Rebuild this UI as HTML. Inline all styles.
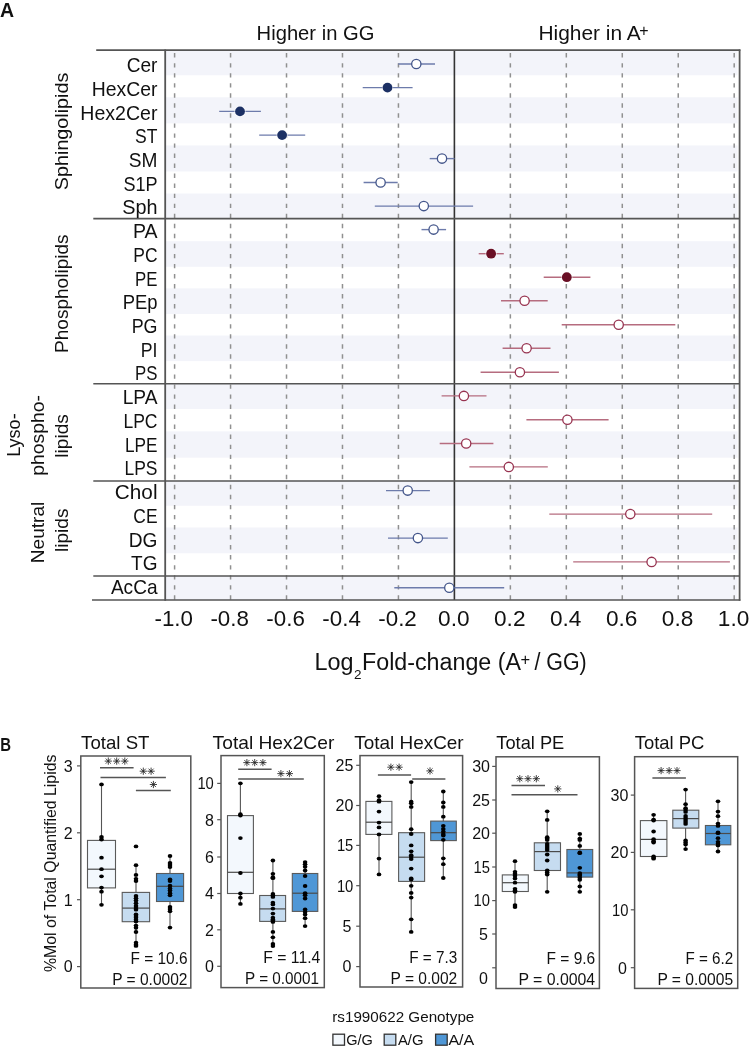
<!DOCTYPE html>
<html><head><meta charset="utf-8"><title>Figure</title>
<style>
html,body{margin:0;padding:0;background:#fff;}
body{width:752px;height:1049px;overflow:hidden;}
svg{display:block;will-change:transform;}
text{font-family:"Liberation Sans", sans-serif;fill:#111;}
</style></head><body>
<svg width="752" height="1049" viewBox="0 0 752 1049">
<rect width="752" height="1049" fill="#fff"/>
<g id="panelA">
<rect x="165.2" y="50.2" width="572.3" height="25.06" fill="#f3f4fa"/>
<rect x="165.2" y="97.31" width="572.3" height="26.06" fill="#f3f4fa"/>
<rect x="165.2" y="145.43" width="572.3" height="26.06" fill="#f3f4fa"/>
<rect x="165.2" y="193.54" width="572.3" height="25.06" fill="#f3f4fa"/>
<rect x="165.2" y="241.19" width="572.3" height="25.59" fill="#f3f4fa"/>
<rect x="165.2" y="288.36" width="572.3" height="25.59" fill="#f3f4fa"/>
<rect x="165.2" y="335.53" width="572.3" height="25.59" fill="#f3f4fa"/>
<rect x="165.2" y="383.7" width="572.3" height="25.32" fill="#f3f4fa"/>
<rect x="165.2" y="431.35" width="572.3" height="26.32" fill="#f3f4fa"/>
<rect x="165.2" y="481" width="572.3" height="24.75" fill="#f3f4fa"/>
<rect x="165.2" y="527.5" width="572.3" height="25.75" fill="#f3f4fa"/>
<rect x="165.2" y="576" width="572.3" height="24.2" fill="#f3f4fa"/>
<line x1="174.6" y1="50.2" x2="174.6" y2="600" stroke="#909090" stroke-width="1.5" stroke-dasharray="4.4 5.64" stroke-dashoffset="-2.9"/>
<line x1="230.56" y1="50.2" x2="230.56" y2="600" stroke="#909090" stroke-width="1.5" stroke-dasharray="4.4 5.64" stroke-dashoffset="-2.9"/>
<line x1="286.52" y1="50.2" x2="286.52" y2="600" stroke="#909090" stroke-width="1.5" stroke-dasharray="4.4 5.64" stroke-dashoffset="-2.9"/>
<line x1="342.48" y1="50.2" x2="342.48" y2="600" stroke="#909090" stroke-width="1.5" stroke-dasharray="4.4 5.64" stroke-dashoffset="-2.9"/>
<line x1="398.44" y1="50.2" x2="398.44" y2="600" stroke="#909090" stroke-width="1.5" stroke-dasharray="4.4 5.64" stroke-dashoffset="-2.9"/>
<line x1="510.36" y1="50.2" x2="510.36" y2="600" stroke="#909090" stroke-width="1.5" stroke-dasharray="4.4 5.64" stroke-dashoffset="-2.9"/>
<line x1="566.32" y1="50.2" x2="566.32" y2="600" stroke="#909090" stroke-width="1.5" stroke-dasharray="4.4 5.64" stroke-dashoffset="-2.9"/>
<line x1="622.28" y1="50.2" x2="622.28" y2="600" stroke="#909090" stroke-width="1.5" stroke-dasharray="4.4 5.64" stroke-dashoffset="-2.9"/>
<line x1="678.24" y1="50.2" x2="678.24" y2="600" stroke="#909090" stroke-width="1.5" stroke-dasharray="4.4 5.64" stroke-dashoffset="-2.9"/>
<line x1="734.2" y1="50.2" x2="734.2" y2="600" stroke="#909090" stroke-width="1.5" stroke-dasharray="4.4 5.64" stroke-dashoffset="-2.9"/>
<line x1="454.4" y1="50.2" x2="454.4" y2="600" stroke="#333" stroke-width="1.6"/>
<line x1="96.2" y1="50.2" x2="740.4" y2="50.2" stroke="#555" stroke-width="1.7"/>
<line x1="92.0" y1="600" x2="740.4" y2="600" stroke="#555" stroke-width="1.7"/>
<line x1="93.3" y1="218.6" x2="739.6" y2="218.6" stroke="#555" stroke-width="1.6"/>
<line x1="93.3" y1="383.7" x2="739.6" y2="383.7" stroke="#555" stroke-width="1.6"/>
<line x1="93.3" y1="481" x2="739.6" y2="481" stroke="#555" stroke-width="1.6"/>
<line x1="93.3" y1="576" x2="739.6" y2="576" stroke="#555" stroke-width="1.6"/>
<line x1="165.2" y1="49.4" x2="165.2" y2="600.8" stroke="#555" stroke-width="1.8"/>
<line x1="739.6" y1="49.4" x2="739.6" y2="600.8" stroke="#555" stroke-width="1.8"/>
<line x1="398.3" y1="64" x2="435" y2="64" stroke="#6d7bab" stroke-width="1.4"/>
<circle cx="416.3" cy="64" r="4.65" fill="#fff" stroke="#43558a" stroke-width="1.3"/>
<line x1="362.7" y1="87.6" x2="412.6" y2="87.6" stroke="#6d7bab" stroke-width="1.4"/>
<circle cx="387.5" cy="87.6" r="5.6" fill="#fff" opacity="0.7"/>
<circle cx="387.5" cy="87.6" r="4.9" fill="#1c3064"/>
<line x1="219.2" y1="111.4" x2="260.9" y2="111.4" stroke="#6d7bab" stroke-width="1.4"/>
<circle cx="240" cy="111.4" r="5.6" fill="#fff" opacity="0.7"/>
<circle cx="240" cy="111.4" r="4.9" fill="#1c3064"/>
<line x1="259.2" y1="135.1" x2="305.2" y2="135.1" stroke="#6d7bab" stroke-width="1.4"/>
<circle cx="282.1" cy="135.1" r="5.6" fill="#fff" opacity="0.7"/>
<circle cx="282.1" cy="135.1" r="4.9" fill="#1c3064"/>
<line x1="429.7" y1="158.6" x2="454.5" y2="158.6" stroke="#6d7bab" stroke-width="1.4"/>
<circle cx="442" cy="158.6" r="4.65" fill="#fff" stroke="#43558a" stroke-width="1.3"/>
<line x1="363.6" y1="182.5" x2="397.7" y2="182.5" stroke="#6d7bab" stroke-width="1.4"/>
<circle cx="380.6" cy="182.5" r="4.65" fill="#fff" stroke="#43558a" stroke-width="1.3"/>
<line x1="374.8" y1="206.1" x2="473.1" y2="206.1" stroke="#6d7bab" stroke-width="1.4"/>
<circle cx="423.8" cy="206.1" r="4.65" fill="#fff" stroke="#43558a" stroke-width="1.3"/>
<line x1="421.5" y1="229.6" x2="446.1" y2="229.6" stroke="#6d7bab" stroke-width="1.4"/>
<circle cx="433.6" cy="229.6" r="4.65" fill="#fff" stroke="#43558a" stroke-width="1.3"/>
<line x1="478.7" y1="253.7" x2="503.8" y2="253.7" stroke="#b66c7f" stroke-width="1.4"/>
<circle cx="491.1" cy="253.7" r="5.6" fill="#fff" opacity="0.7"/>
<circle cx="491.1" cy="253.7" r="4.9" fill="#6a0f25"/>
<line x1="543.7" y1="277.2" x2="590.4" y2="277.2" stroke="#b66c7f" stroke-width="1.4"/>
<circle cx="566.8" cy="277.2" r="5.6" fill="#fff" opacity="0.7"/>
<circle cx="566.8" cy="277.2" r="4.9" fill="#6a0f25"/>
<line x1="501" y1="300.8" x2="547.7" y2="300.8" stroke="#b66c7f" stroke-width="1.4"/>
<circle cx="524.6" cy="300.8" r="4.65" fill="#fff" stroke="#973350" stroke-width="1.3"/>
<line x1="561.7" y1="324.7" x2="675.3" y2="324.7" stroke="#b66c7f" stroke-width="1.4"/>
<circle cx="618.7" cy="324.7" r="4.65" fill="#fff" stroke="#973350" stroke-width="1.3"/>
<line x1="502.6" y1="348.2" x2="550.5" y2="348.2" stroke="#b66c7f" stroke-width="1.4"/>
<circle cx="526.6" cy="348.2" r="4.65" fill="#fff" stroke="#973350" stroke-width="1.3"/>
<line x1="480.6" y1="372.3" x2="558.9" y2="372.3" stroke="#b66c7f" stroke-width="1.4"/>
<circle cx="519.9" cy="372.3" r="4.65" fill="#fff" stroke="#973350" stroke-width="1.3"/>
<line x1="441.6" y1="395.9" x2="486.5" y2="395.9" stroke="#b66c7f" stroke-width="1.4"/>
<circle cx="463.9" cy="395.9" r="4.65" fill="#fff" stroke="#973350" stroke-width="1.3"/>
<line x1="526.4" y1="419.8" x2="608.6" y2="419.8" stroke="#b66c7f" stroke-width="1.4"/>
<circle cx="567.4" cy="419.8" r="4.65" fill="#fff" stroke="#973350" stroke-width="1.3"/>
<line x1="439.7" y1="443.5" x2="493.4" y2="443.5" stroke="#b66c7f" stroke-width="1.4"/>
<circle cx="466.2" cy="443.5" r="4.65" fill="#fff" stroke="#973350" stroke-width="1.3"/>
<line x1="469.4" y1="466.9" x2="547.8" y2="466.9" stroke="#b66c7f" stroke-width="1.4"/>
<circle cx="508.8" cy="466.9" r="4.65" fill="#fff" stroke="#973350" stroke-width="1.3"/>
<line x1="386" y1="490.6" x2="429.9" y2="490.6" stroke="#6d7bab" stroke-width="1.4"/>
<circle cx="407.7" cy="490.6" r="4.65" fill="#fff" stroke="#43558a" stroke-width="1.3"/>
<line x1="549.3" y1="514.1" x2="712.2" y2="514.1" stroke="#b66c7f" stroke-width="1.4"/>
<circle cx="630.3" cy="514.1" r="4.65" fill="#fff" stroke="#973350" stroke-width="1.3"/>
<line x1="388" y1="538.1" x2="447.8" y2="538.1" stroke="#6d7bab" stroke-width="1.4"/>
<circle cx="417.9" cy="538.1" r="4.65" fill="#fff" stroke="#43558a" stroke-width="1.3"/>
<line x1="573.2" y1="561.9" x2="729.9" y2="561.9" stroke="#b66c7f" stroke-width="1.4"/>
<circle cx="651.6" cy="561.9" r="4.65" fill="#fff" stroke="#973350" stroke-width="1.3"/>
<line x1="394.3" y1="587.7" x2="504.2" y2="587.7" stroke="#6d7bab" stroke-width="1.4"/>
<circle cx="449.3" cy="587.7" r="4.65" fill="#fff" stroke="#43558a" stroke-width="1.3"/>
<text x="157.5" y="72.1" text-anchor="end" font-size="20.6" textLength="30.8" lengthAdjust="spacingAndGlyphs">Cer</text>
<text x="157.5" y="95.82" text-anchor="end" font-size="20.6" textLength="65.8" lengthAdjust="spacingAndGlyphs">HexCer</text>
<text x="157.5" y="119.54" text-anchor="end" font-size="20.6" textLength="77.2" lengthAdjust="spacingAndGlyphs">Hex2Cer</text>
<text x="157.5" y="143.26" text-anchor="end" font-size="20.6" textLength="22.4" lengthAdjust="spacingAndGlyphs">ST</text>
<text x="157.5" y="166.98" text-anchor="end" font-size="20.6" textLength="28.7" lengthAdjust="spacingAndGlyphs">SM</text>
<text x="157.5" y="190.7" text-anchor="end" font-size="20.6" textLength="34.1" lengthAdjust="spacingAndGlyphs">S1P</text>
<text x="157.5" y="214.42" text-anchor="end" font-size="20.6" textLength="35.3" lengthAdjust="spacingAndGlyphs">Sph</text>
<text x="157.5" y="238.14" text-anchor="end" font-size="20.6" textLength="24.6" lengthAdjust="spacingAndGlyphs">PA</text>
<text x="157.5" y="261.86" text-anchor="end" font-size="20.6" textLength="24.2" lengthAdjust="spacingAndGlyphs">PC</text>
<text x="157.5" y="285.58" text-anchor="end" font-size="20.6" textLength="22.4" lengthAdjust="spacingAndGlyphs">PE</text>
<text x="157.5" y="309.3" text-anchor="end" font-size="20.6" textLength="34.8" lengthAdjust="spacingAndGlyphs">PEp</text>
<text x="157.5" y="333.02" text-anchor="end" font-size="20.6" textLength="25.8" lengthAdjust="spacingAndGlyphs">PG</text>
<text x="157.5" y="356.74" text-anchor="end" font-size="20.6" textLength="16.7" lengthAdjust="spacingAndGlyphs">PI</text>
<text x="157.5" y="380.46" text-anchor="end" font-size="20.6" textLength="22.4" lengthAdjust="spacingAndGlyphs">PS</text>
<text x="157.5" y="404.18" text-anchor="end" font-size="20.6" textLength="34.8" lengthAdjust="spacingAndGlyphs">LPA</text>
<text x="157.5" y="427.9" text-anchor="end" font-size="20.6" textLength="34.1" lengthAdjust="spacingAndGlyphs">LPC</text>
<text x="157.5" y="451.62" text-anchor="end" font-size="20.6" textLength="32.5" lengthAdjust="spacingAndGlyphs">LPE</text>
<text x="157.5" y="475.34" text-anchor="end" font-size="20.6" textLength="33" lengthAdjust="spacingAndGlyphs">LPS</text>
<text x="157.5" y="499.06" text-anchor="end" font-size="20.6" textLength="42.7" lengthAdjust="spacingAndGlyphs">Chol</text>
<text x="157.5" y="522.78" text-anchor="end" font-size="20.6" textLength="24.2" lengthAdjust="spacingAndGlyphs">CE</text>
<text x="157.5" y="546.5" text-anchor="end" font-size="20.6" textLength="28.7" lengthAdjust="spacingAndGlyphs">DG</text>
<text x="157.5" y="570.22" text-anchor="end" font-size="20.6" textLength="26.4" lengthAdjust="spacingAndGlyphs">TG</text>
<text x="157.5" y="593.94" text-anchor="end" font-size="20.6" textLength="46.6" lengthAdjust="spacingAndGlyphs">AcCa</text>
<text transform="translate(68.3 131.4) rotate(-90)" text-anchor="middle" font-size="19" textLength="117.5" lengthAdjust="spacingAndGlyphs">Sphingolipids</text>
<text transform="translate(68.3 293.7) rotate(-90)" text-anchor="middle" font-size="19" textLength="118.5" lengthAdjust="spacingAndGlyphs">Phospholipids</text>
<text transform="translate(20.2 435.1) rotate(-90)" text-anchor="middle" font-size="19" textLength="43.5" lengthAdjust="spacingAndGlyphs">Lyso-</text>
<text transform="translate(44.1 435.4) rotate(-90)" text-anchor="middle" font-size="19" textLength="80.5" lengthAdjust="spacingAndGlyphs">phospho-</text>
<text transform="translate(67.9 435.9) rotate(-90)" text-anchor="middle" font-size="19" textLength="43.5" lengthAdjust="spacingAndGlyphs">lipids</text>
<text transform="translate(44 532.5) rotate(-90)" text-anchor="middle" font-size="19" textLength="61.5" lengthAdjust="spacingAndGlyphs">Neutral</text>
<text transform="translate(67.9 530.3) rotate(-90)" text-anchor="middle" font-size="19" textLength="43.5" lengthAdjust="spacingAndGlyphs">lipids</text>
<text x="256.6" y="40" font-size="20" textLength="117.8" lengthAdjust="spacingAndGlyphs">Higher in GG</text>
<text x="538.4" y="40" font-size="20" textLength="102.3" lengthAdjust="spacingAndGlyphs">Higher in A</text>
<text x="639.3" y="36.3" font-size="16">+</text>
<text x="0" y="16.8" font-size="19.5" font-weight="bold">A</text>
<text x="173.7" y="626" text-anchor="middle" font-size="22" textLength="38.5" lengthAdjust="spacingAndGlyphs">-1.0</text>
<text x="229.66" y="626" text-anchor="middle" font-size="22" textLength="38.5" lengthAdjust="spacingAndGlyphs">-0.8</text>
<text x="285.62" y="626" text-anchor="middle" font-size="22" textLength="38.5" lengthAdjust="spacingAndGlyphs">-0.6</text>
<text x="341.58" y="626" text-anchor="middle" font-size="22" textLength="38.5" lengthAdjust="spacingAndGlyphs">-0.4</text>
<text x="397.54" y="626" text-anchor="middle" font-size="22" textLength="38.5" lengthAdjust="spacingAndGlyphs">-0.2</text>
<text x="453.8" y="626" text-anchor="middle" font-size="22" textLength="31.5" lengthAdjust="spacingAndGlyphs">0.0</text>
<text x="509.76" y="626" text-anchor="middle" font-size="22" textLength="31.5" lengthAdjust="spacingAndGlyphs">0.2</text>
<text x="565.72" y="626" text-anchor="middle" font-size="22" textLength="31.5" lengthAdjust="spacingAndGlyphs">0.4</text>
<text x="621.68" y="626" text-anchor="middle" font-size="22" textLength="31.5" lengthAdjust="spacingAndGlyphs">0.6</text>
<text x="677.64" y="626" text-anchor="middle" font-size="22" textLength="31.5" lengthAdjust="spacingAndGlyphs">0.8</text>
<text x="733.6" y="626" text-anchor="middle" font-size="22" textLength="31.5" lengthAdjust="spacingAndGlyphs">1.0</text>
<text x="314.6" y="670.2" font-size="23" textLength="39" lengthAdjust="spacingAndGlyphs">Log</text>
<text x="353.9" y="678.6" font-size="13.5">2</text>
<text x="362.0" y="670.2" font-size="23" textLength="159" lengthAdjust="spacingAndGlyphs">Fold-change (A</text>
<text x="520.4" y="665.3" font-size="16.5">+</text>
<text x="534.4" y="670.2" font-size="23" textLength="52.3" lengthAdjust="spacingAndGlyphs">/ GG)</text>
</g>
<g id="panelB">
<text x="0.2" y="750.6" font-size="18.5" font-weight="bold" textLength="10.8" lengthAdjust="spacingAndGlyphs">B</text>
<text transform="translate(55.6 863.3) rotate(-90)" text-anchor="middle" font-size="15.6" textLength="217.5" lengthAdjust="spacingAndGlyphs">%Mol of Total Quantified Lipids</text>
<text x="81.1" y="749.1" font-size="19" textLength="68.4" lengthAdjust="spacingAndGlyphs">Total ST</text>
<rect x="80.8" y="756" width="110" height="232" fill="#fff" stroke="#555" stroke-width="1.5"/>
<line x1="77" y1="966.6" x2="80.8" y2="966.6" stroke="#555" stroke-width="1.2"/>
<text x="72.6" y="972.4" text-anchor="end" font-size="16">0</text>
<line x1="77" y1="899.7" x2="80.8" y2="899.7" stroke="#555" stroke-width="1.2"/>
<text x="72.6" y="905.5" text-anchor="end" font-size="16">1</text>
<line x1="77" y1="832.8" x2="80.8" y2="832.8" stroke="#555" stroke-width="1.2"/>
<text x="72.6" y="838.6" text-anchor="end" font-size="16">2</text>
<line x1="77" y1="765.9" x2="80.8" y2="765.9" stroke="#555" stroke-width="1.2"/>
<text x="72.6" y="771.7" text-anchor="end" font-size="16">3</text>
<line x1="100" y1="767.7" x2="133.6" y2="767.7" stroke="#555" stroke-width="1.5"/>
<path d="M108.3 757.5L108.3 764.7M105.75 758.55L110.85 763.65M104.7 761.1L111.9 761.1M105.75 763.65L110.85 758.55" stroke="#222" stroke-width="0.85" fill="none"/>
<path d="M116.7 757.5L116.7 764.7M114.15 758.55L119.25 763.65M113.1 761.1L120.3 761.1M114.15 763.65L119.25 758.55" stroke="#222" stroke-width="0.85" fill="none"/>
<path d="M124.8 757.5L124.8 764.7M122.25 758.55L127.35 763.65M121.2 761.1L128.4 761.1M122.25 763.65L127.35 758.55" stroke="#222" stroke-width="0.85" fill="none"/>
<line x1="100.5" y1="777.4" x2="165.9" y2="777.4" stroke="#555" stroke-width="1.5"/>
<path d="M143.3 767.6L143.3 774.8M140.75 768.65L145.85 773.75M139.7 771.2L146.9 771.2M140.75 773.75L145.85 768.65" stroke="#222" stroke-width="0.85" fill="none"/>
<path d="M151.1 767.6L151.1 774.8M148.55 768.65L153.65 773.75M147.5 771.2L154.7 771.2M148.55 773.75L153.65 768.65" stroke="#222" stroke-width="0.85" fill="none"/>
<line x1="135.9" y1="790.6" x2="170.8" y2="790.6" stroke="#555" stroke-width="1.5"/>
<path d="M153.4 780.9L153.4 788.1M150.85 781.95L155.95 787.05M149.8 784.5L157 784.5M150.85 787.05L155.95 781.95" stroke="#222" stroke-width="0.85" fill="none"/>
<line x1="101.5" y1="784.4" x2="101.5" y2="904.8" stroke="#555" stroke-width="1.1"/>
<rect x="87.5" y="840.4" width="28" height="47.5" fill="#f3f8fd" stroke="#5a5a5a" stroke-width="1.1"/>
<line x1="87.5" y1="869.2" x2="115.5" y2="869.2" stroke="#4a4a4a" stroke-width="1.2"/>
<ellipse cx="101.5" cy="784.4" rx="2.3" ry="1.9" fill="#000"/>
<ellipse cx="101.5" cy="836.9" rx="2.3" ry="1.9" fill="#000"/>
<ellipse cx="101.5" cy="839.5" rx="2.3" ry="1.9" fill="#000"/>
<ellipse cx="101.5" cy="857.7" rx="2.3" ry="1.9" fill="#000"/>
<ellipse cx="101.5" cy="869.2" rx="2.3" ry="1.9" fill="#000"/>
<ellipse cx="101.5" cy="876.3" rx="2.3" ry="1.9" fill="#000"/>
<ellipse cx="101.5" cy="887.6" rx="2.3" ry="1.9" fill="#000"/>
<ellipse cx="101.5" cy="891.7" rx="2.3" ry="1.9" fill="#000"/>
<ellipse cx="101.5" cy="904.8" rx="2.3" ry="1.9" fill="#000"/>
<line x1="136" y1="865.2" x2="136" y2="945.3" stroke="#555" stroke-width="1.1"/>
<rect x="122.2" y="892.4" width="27.4" height="29.3" fill="#c6dcf0" stroke="#5a5a5a" stroke-width="1.1"/>
<line x1="122.2" y1="908.1" x2="149.6" y2="908.1" stroke="#4a4a4a" stroke-width="1.2"/>
<ellipse cx="136" cy="846.4" rx="2.3" ry="1.9" fill="#000"/>
<ellipse cx="136" cy="865.2" rx="2.3" ry="1.9" fill="#000"/>
<ellipse cx="136" cy="874.9" rx="2.3" ry="1.9" fill="#000"/>
<ellipse cx="136" cy="878.8" rx="2.3" ry="1.9" fill="#000"/>
<ellipse cx="136" cy="881" rx="2.3" ry="1.9" fill="#000"/>
<ellipse cx="136" cy="895.9" rx="2.3" ry="1.9" fill="#000"/>
<ellipse cx="136" cy="898.3" rx="2.3" ry="1.9" fill="#000"/>
<ellipse cx="136" cy="900.6" rx="2.3" ry="1.9" fill="#000"/>
<ellipse cx="136" cy="903.3" rx="2.3" ry="1.9" fill="#000"/>
<ellipse cx="136" cy="906" rx="2.3" ry="1.9" fill="#000"/>
<ellipse cx="136" cy="908.1" rx="2.3" ry="1.9" fill="#000"/>
<ellipse cx="136" cy="909.7" rx="2.3" ry="1.9" fill="#000"/>
<ellipse cx="136" cy="914.5" rx="2.3" ry="1.9" fill="#000"/>
<ellipse cx="136" cy="916.1" rx="2.3" ry="1.9" fill="#000"/>
<ellipse cx="136" cy="917.7" rx="2.3" ry="1.9" fill="#000"/>
<ellipse cx="136" cy="919.8" rx="2.3" ry="1.9" fill="#000"/>
<ellipse cx="136" cy="921.4" rx="2.3" ry="1.9" fill="#000"/>
<ellipse cx="136" cy="925.6" rx="2.3" ry="1.9" fill="#000"/>
<ellipse cx="136" cy="927.8" rx="2.3" ry="1.9" fill="#000"/>
<ellipse cx="136" cy="932" rx="2.3" ry="1.9" fill="#000"/>
<ellipse cx="136" cy="942.7" rx="2.3" ry="1.9" fill="#000"/>
<ellipse cx="136" cy="944.8" rx="2.3" ry="1.9" fill="#000"/>
<ellipse cx="136" cy="945.9" rx="2.3" ry="1.9" fill="#000"/>
<line x1="170" y1="856" x2="170" y2="927.6" stroke="#555" stroke-width="1.1"/>
<rect x="156.5" y="873.5" width="27.1" height="28" fill="#4f97d6" stroke="#5a5a5a" stroke-width="1.1"/>
<line x1="156.5" y1="886.3" x2="183.6" y2="886.3" stroke="#4a4a4a" stroke-width="1.2"/>
<ellipse cx="170" cy="856" rx="2.3" ry="1.9" fill="#000"/>
<ellipse cx="170" cy="862.9" rx="2.3" ry="1.9" fill="#000"/>
<ellipse cx="170" cy="865" rx="2.3" ry="1.9" fill="#000"/>
<ellipse cx="170" cy="867.1" rx="2.3" ry="1.9" fill="#000"/>
<ellipse cx="170" cy="879.4" rx="2.3" ry="1.9" fill="#000"/>
<ellipse cx="170" cy="881" rx="2.3" ry="1.9" fill="#000"/>
<ellipse cx="170" cy="885.7" rx="2.3" ry="1.9" fill="#000"/>
<ellipse cx="170" cy="888.4" rx="2.3" ry="1.9" fill="#000"/>
<ellipse cx="170" cy="890.5" rx="2.3" ry="1.9" fill="#000"/>
<ellipse cx="170" cy="893.2" rx="2.3" ry="1.9" fill="#000"/>
<ellipse cx="170" cy="895.3" rx="2.3" ry="1.9" fill="#000"/>
<ellipse cx="170" cy="907" rx="2.3" ry="1.9" fill="#000"/>
<ellipse cx="170" cy="909.1" rx="2.3" ry="1.9" fill="#000"/>
<ellipse cx="170" cy="911.3" rx="2.3" ry="1.9" fill="#000"/>
<ellipse cx="170" cy="927.6" rx="2.3" ry="1.9" fill="#000"/>
<text x="187.5" y="963.9" text-anchor="end" font-size="16" textLength="56.9" lengthAdjust="spacingAndGlyphs">F = 10.6</text>
<text x="187.5" y="984.6" text-anchor="end" font-size="16" textLength="75.3" lengthAdjust="spacingAndGlyphs">P = 0.0002</text>
<text x="212.6" y="749.1" font-size="19" textLength="121.7" lengthAdjust="spacingAndGlyphs">Total Hex2Cer</text>
<rect x="221" y="755.6" width="103.3" height="232" fill="#fff" stroke="#555" stroke-width="1.5"/>
<line x1="217.2" y1="966.3" x2="221" y2="966.3" stroke="#555" stroke-width="1.2"/>
<text x="213.8" y="972.1" text-anchor="end" font-size="16">0</text>
<line x1="217.2" y1="929.8" x2="221" y2="929.8" stroke="#555" stroke-width="1.2"/>
<text x="213.8" y="935.6" text-anchor="end" font-size="16">2</text>
<line x1="217.2" y1="893.5" x2="221" y2="893.5" stroke="#555" stroke-width="1.2"/>
<text x="213.8" y="899.3" text-anchor="end" font-size="16">4</text>
<line x1="217.2" y1="857" x2="221" y2="857" stroke="#555" stroke-width="1.2"/>
<text x="213.8" y="862.8" text-anchor="end" font-size="16">6</text>
<line x1="217.2" y1="819.7" x2="221" y2="819.7" stroke="#555" stroke-width="1.2"/>
<text x="213.8" y="825.5" text-anchor="end" font-size="16">8</text>
<line x1="217.2" y1="783.4" x2="221" y2="783.4" stroke="#555" stroke-width="1.2"/>
<text x="213.8" y="789.2" text-anchor="end" font-size="16" textLength="16.4" lengthAdjust="spacingAndGlyphs">10</text>
<line x1="238.2" y1="769.3" x2="271.6" y2="769.3" stroke="#555" stroke-width="1.5"/>
<path d="M246.9 759L246.9 766.2M244.35 760.05L249.45 765.15M243.3 762.6L250.5 762.6M244.35 765.15L249.45 760.05" stroke="#222" stroke-width="0.85" fill="none"/>
<path d="M254.7 759L254.7 766.2M252.15 760.05L257.25 765.15M251.1 762.6L258.3 762.6M252.15 765.15L257.25 760.05" stroke="#222" stroke-width="0.85" fill="none"/>
<path d="M262.9 759L262.9 766.2M260.35 760.05L265.45 765.15M259.3 762.6L266.5 762.6M260.35 765.15L265.45 760.05" stroke="#222" stroke-width="0.85" fill="none"/>
<line x1="238.2" y1="778.9" x2="303.8" y2="778.9" stroke="#555" stroke-width="1.5"/>
<path d="M280.9 770L280.9 777.2M278.35 771.05L283.45 776.15M277.3 773.6L284.5 773.6M278.35 776.15L283.45 771.05" stroke="#222" stroke-width="0.85" fill="none"/>
<path d="M289.4 770L289.4 777.2M286.85 771.05L291.95 776.15M285.8 773.6L293 773.6M286.85 776.15L291.95 771.05" stroke="#222" stroke-width="0.85" fill="none"/>
<line x1="240.4" y1="783.3" x2="240.4" y2="903.9" stroke="#555" stroke-width="1.1"/>
<rect x="227.5" y="815.6" width="25.9" height="77.9" fill="#f3f8fd" stroke="#5a5a5a" stroke-width="1.1"/>
<line x1="227.5" y1="872.3" x2="253.4" y2="872.3" stroke="#4a4a4a" stroke-width="1.2"/>
<ellipse cx="240.4" cy="783.3" rx="2.3" ry="1.9" fill="#000"/>
<ellipse cx="240.4" cy="814.2" rx="2.3" ry="1.9" fill="#000"/>
<ellipse cx="240.4" cy="815.6" rx="2.3" ry="1.9" fill="#000"/>
<ellipse cx="240.4" cy="838.1" rx="2.3" ry="1.9" fill="#000"/>
<ellipse cx="240.4" cy="873" rx="2.3" ry="1.9" fill="#000"/>
<ellipse cx="240.4" cy="893.5" rx="2.3" ry="1.9" fill="#000"/>
<ellipse cx="240.4" cy="897.7" rx="2.3" ry="1.9" fill="#000"/>
<ellipse cx="240.4" cy="903.9" rx="2.3" ry="1.9" fill="#000"/>
<line x1="272.9" y1="860.5" x2="272.9" y2="946.1" stroke="#555" stroke-width="1.1"/>
<rect x="259.7" y="895.5" width="25.9" height="25.9" fill="#c6dcf0" stroke="#5a5a5a" stroke-width="1.1"/>
<line x1="259.7" y1="908.9" x2="285.6" y2="908.9" stroke="#4a4a4a" stroke-width="1.2"/>
<ellipse cx="272.9" cy="860.5" rx="2.3" ry="1.9" fill="#000"/>
<ellipse cx="272.9" cy="873.8" rx="2.3" ry="1.9" fill="#000"/>
<ellipse cx="272.9" cy="877.2" rx="2.3" ry="1.9" fill="#000"/>
<ellipse cx="272.9" cy="878.2" rx="2.3" ry="1.9" fill="#000"/>
<ellipse cx="272.9" cy="893.9" rx="2.3" ry="1.9" fill="#000"/>
<ellipse cx="272.9" cy="895.5" rx="2.3" ry="1.9" fill="#000"/>
<ellipse cx="272.9" cy="896.9" rx="2.3" ry="1.9" fill="#000"/>
<ellipse cx="272.9" cy="902.7" rx="2.3" ry="1.9" fill="#000"/>
<ellipse cx="272.9" cy="904.4" rx="2.3" ry="1.9" fill="#000"/>
<ellipse cx="272.9" cy="908.6" rx="2.3" ry="1.9" fill="#000"/>
<ellipse cx="272.9" cy="913.6" rx="2.3" ry="1.9" fill="#000"/>
<ellipse cx="272.9" cy="917.7" rx="2.3" ry="1.9" fill="#000"/>
<ellipse cx="272.9" cy="919.4" rx="2.3" ry="1.9" fill="#000"/>
<ellipse cx="272.9" cy="920.6" rx="2.3" ry="1.9" fill="#000"/>
<ellipse cx="272.9" cy="921.9" rx="2.3" ry="1.9" fill="#000"/>
<ellipse cx="272.9" cy="931.9" rx="2.3" ry="1.9" fill="#000"/>
<ellipse cx="272.9" cy="937.3" rx="2.3" ry="1.9" fill="#000"/>
<ellipse cx="272.9" cy="944" rx="2.3" ry="1.9" fill="#000"/>
<ellipse cx="272.9" cy="946.1" rx="2.3" ry="1.9" fill="#000"/>
<line x1="305.1" y1="862.1" x2="305.1" y2="926.1" stroke="#555" stroke-width="1.1"/>
<rect x="292.3" y="873.5" width="25.5" height="37.9" fill="#4f97d6" stroke="#5a5a5a" stroke-width="1.1"/>
<line x1="292.3" y1="893.2" x2="317.8" y2="893.2" stroke="#4a4a4a" stroke-width="1.2"/>
<ellipse cx="305.1" cy="862.1" rx="2.3" ry="1.9" fill="#000"/>
<ellipse cx="305.1" cy="864.3" rx="2.3" ry="1.9" fill="#000"/>
<ellipse cx="305.1" cy="866.8" rx="2.3" ry="1.9" fill="#000"/>
<ellipse cx="305.1" cy="870.5" rx="2.3" ry="1.9" fill="#000"/>
<ellipse cx="305.1" cy="876" rx="2.3" ry="1.9" fill="#000"/>
<ellipse cx="305.1" cy="886" rx="2.3" ry="1.9" fill="#000"/>
<ellipse cx="305.1" cy="893.2" rx="2.3" ry="1.9" fill="#000"/>
<ellipse cx="305.1" cy="895.2" rx="2.3" ry="1.9" fill="#000"/>
<ellipse cx="305.1" cy="898.5" rx="2.3" ry="1.9" fill="#000"/>
<ellipse cx="305.1" cy="909.4" rx="2.3" ry="1.9" fill="#000"/>
<ellipse cx="305.1" cy="911.9" rx="2.3" ry="1.9" fill="#000"/>
<ellipse cx="305.1" cy="914.4" rx="2.3" ry="1.9" fill="#000"/>
<ellipse cx="305.1" cy="918.2" rx="2.3" ry="1.9" fill="#000"/>
<ellipse cx="305.1" cy="926.1" rx="2.3" ry="1.9" fill="#000"/>
<text x="320.3" y="963.2" text-anchor="end" font-size="16" textLength="57" lengthAdjust="spacingAndGlyphs">F = 11.4</text>
<text x="318.9" y="984.3" text-anchor="end" font-size="16" textLength="73.9" lengthAdjust="spacingAndGlyphs">P = 0.0001</text>
<text x="354.2" y="749.1" font-size="19" textLength="109.5" lengthAdjust="spacingAndGlyphs">Total HexCer</text>
<rect x="360" y="755.6" width="102.6" height="231.4" fill="#fff" stroke="#555" stroke-width="1.5"/>
<line x1="356.2" y1="966.6" x2="360" y2="966.6" stroke="#555" stroke-width="1.2"/>
<text x="351.5" y="972.4" text-anchor="end" font-size="16">0</text>
<line x1="356.2" y1="926.2" x2="360" y2="926.2" stroke="#555" stroke-width="1.2"/>
<text x="351.5" y="932" text-anchor="end" font-size="16">5</text>
<line x1="356.2" y1="885.7" x2="360" y2="885.7" stroke="#555" stroke-width="1.2"/>
<text x="353.3" y="891.5" text-anchor="end" font-size="16" textLength="16.4" lengthAdjust="spacingAndGlyphs">10</text>
<line x1="356.2" y1="845.4" x2="360" y2="845.4" stroke="#555" stroke-width="1.2"/>
<text x="353.3" y="851.2" text-anchor="end" font-size="16" textLength="16.4" lengthAdjust="spacingAndGlyphs">15</text>
<line x1="356.2" y1="805.5" x2="360" y2="805.5" stroke="#555" stroke-width="1.2"/>
<text x="353.3" y="811.3" text-anchor="end" font-size="16">20</text>
<line x1="356.2" y1="765.3" x2="360" y2="765.3" stroke="#555" stroke-width="1.2"/>
<text x="353.3" y="771.1" text-anchor="end" font-size="16">25</text>
<line x1="377.9" y1="775.1" x2="411.1" y2="775.1" stroke="#555" stroke-width="1.5"/>
<path d="M390.9 763.6L390.9 770.8M388.35 764.65L393.45 769.75M387.3 767.2L394.5 767.2M388.35 769.75L393.45 764.65" stroke="#222" stroke-width="0.85" fill="none"/>
<path d="M399.1 763.6L399.1 770.8M396.55 764.65L401.65 769.75M395.5 767.2L402.7 767.2M396.55 769.75L401.65 764.65" stroke="#222" stroke-width="0.85" fill="none"/>
<line x1="412.2" y1="778.9" x2="445.4" y2="778.9" stroke="#555" stroke-width="1.5"/>
<path d="M430 767.3L430 774.5M427.45 768.35L432.55 773.45M426.4 770.9L433.6 770.9M427.45 773.45L432.55 768.35" stroke="#222" stroke-width="0.85" fill="none"/>
<line x1="379" y1="796.2" x2="379" y2="874.4" stroke="#555" stroke-width="1.1"/>
<rect x="365.9" y="801.4" width="26" height="33" fill="#f3f8fd" stroke="#5a5a5a" stroke-width="1.1"/>
<line x1="365.9" y1="822.2" x2="391.9" y2="822.2" stroke="#4a4a4a" stroke-width="1.2"/>
<ellipse cx="379" cy="796.2" rx="2.3" ry="1.9" fill="#000"/>
<ellipse cx="379" cy="800.2" rx="2.3" ry="1.9" fill="#000"/>
<ellipse cx="379" cy="801.7" rx="2.3" ry="1.9" fill="#000"/>
<ellipse cx="379" cy="811.6" rx="2.3" ry="1.9" fill="#000"/>
<ellipse cx="379" cy="822.6" rx="2.3" ry="1.9" fill="#000"/>
<ellipse cx="379" cy="827.4" rx="2.3" ry="1.9" fill="#000"/>
<ellipse cx="379" cy="834.4" rx="2.3" ry="1.9" fill="#000"/>
<ellipse cx="379" cy="858.6" rx="2.3" ry="1.9" fill="#000"/>
<ellipse cx="379" cy="874.4" rx="2.3" ry="1.9" fill="#000"/>
<line x1="411.2" y1="782.1" x2="411.2" y2="931.9" stroke="#555" stroke-width="1.1"/>
<rect x="398.6" y="832.7" width="26" height="48.7" fill="#c6dcf0" stroke="#5a5a5a" stroke-width="1.1"/>
<line x1="398.6" y1="857.2" x2="424.6" y2="857.2" stroke="#4a4a4a" stroke-width="1.2"/>
<ellipse cx="411.2" cy="782.1" rx="2.3" ry="1.9" fill="#000"/>
<ellipse cx="411.2" cy="801.7" rx="2.3" ry="1.9" fill="#000"/>
<ellipse cx="411.2" cy="803.3" rx="2.3" ry="1.9" fill="#000"/>
<ellipse cx="411.2" cy="806.9" rx="2.3" ry="1.9" fill="#000"/>
<ellipse cx="411.2" cy="829.2" rx="2.3" ry="1.9" fill="#000"/>
<ellipse cx="411.2" cy="834" rx="2.3" ry="1.9" fill="#000"/>
<ellipse cx="411.2" cy="845.4" rx="2.3" ry="1.9" fill="#000"/>
<ellipse cx="411.2" cy="851.3" rx="2.3" ry="1.9" fill="#000"/>
<ellipse cx="411.2" cy="855.2" rx="2.3" ry="1.9" fill="#000"/>
<ellipse cx="411.2" cy="856.8" rx="2.3" ry="1.9" fill="#000"/>
<ellipse cx="411.2" cy="859.1" rx="2.3" ry="1.9" fill="#000"/>
<ellipse cx="411.2" cy="868.6" rx="2.3" ry="1.9" fill="#000"/>
<ellipse cx="411.2" cy="878.5" rx="2.3" ry="1.9" fill="#000"/>
<ellipse cx="411.2" cy="879.6" rx="2.3" ry="1.9" fill="#000"/>
<ellipse cx="411.2" cy="885.8" rx="2.3" ry="1.9" fill="#000"/>
<ellipse cx="411.2" cy="892.9" rx="2.3" ry="1.9" fill="#000"/>
<ellipse cx="411.2" cy="897.6" rx="2.3" ry="1.9" fill="#000"/>
<ellipse cx="411.2" cy="919.3" rx="2.3" ry="1.9" fill="#000"/>
<ellipse cx="411.2" cy="931.9" rx="2.3" ry="1.9" fill="#000"/>
<line x1="443.3" y1="791.5" x2="443.3" y2="878" stroke="#555" stroke-width="1.1"/>
<rect x="430.7" y="821.1" width="25.6" height="19.5" fill="#4f97d6" stroke="#5a5a5a" stroke-width="1.1"/>
<line x1="430.7" y1="832.7" x2="456.3" y2="832.7" stroke="#4a4a4a" stroke-width="1.2"/>
<ellipse cx="443.3" cy="791.5" rx="2.3" ry="1.9" fill="#000"/>
<ellipse cx="443.3" cy="802.5" rx="2.3" ry="1.9" fill="#000"/>
<ellipse cx="443.3" cy="806.9" rx="2.3" ry="1.9" fill="#000"/>
<ellipse cx="443.3" cy="816.7" rx="2.3" ry="1.9" fill="#000"/>
<ellipse cx="443.3" cy="825.8" rx="2.3" ry="1.9" fill="#000"/>
<ellipse cx="443.3" cy="828.9" rx="2.3" ry="1.9" fill="#000"/>
<ellipse cx="443.3" cy="831.6" rx="2.3" ry="1.9" fill="#000"/>
<ellipse cx="443.3" cy="834" rx="2.3" ry="1.9" fill="#000"/>
<ellipse cx="443.3" cy="835.5" rx="2.3" ry="1.9" fill="#000"/>
<ellipse cx="443.3" cy="839.8" rx="2.3" ry="1.9" fill="#000"/>
<ellipse cx="443.3" cy="858.3" rx="2.3" ry="1.9" fill="#000"/>
<ellipse cx="443.3" cy="864.2" rx="2.3" ry="1.9" fill="#000"/>
<ellipse cx="443.3" cy="878" rx="2.3" ry="1.9" fill="#000"/>
<text x="457.2" y="963" text-anchor="end" font-size="16" textLength="48" lengthAdjust="spacingAndGlyphs">F = 7.3</text>
<text x="457.2" y="983.8" text-anchor="end" font-size="16" textLength="66.7" lengthAdjust="spacingAndGlyphs">P = 0.002</text>
<text x="496.3" y="749.1" font-size="19" textLength="68" lengthAdjust="spacingAndGlyphs">Total PE</text>
<rect x="496" y="756.8" width="103.4" height="231.7" fill="#fff" stroke="#555" stroke-width="1.5"/>
<line x1="492.2" y1="967.8" x2="496" y2="967.8" stroke="#555" stroke-width="1.2"/>
<text x="488" y="983.5" text-anchor="end" font-size="16">0</text>
<line x1="492.2" y1="934" x2="496" y2="934" stroke="#555" stroke-width="1.2"/>
<text x="488" y="939.8" text-anchor="end" font-size="16">5</text>
<line x1="492.2" y1="900.6" x2="496" y2="900.6" stroke="#555" stroke-width="1.2"/>
<text x="490" y="906.4" text-anchor="end" font-size="16" textLength="16.4" lengthAdjust="spacingAndGlyphs">10</text>
<line x1="492.2" y1="867" x2="496" y2="867" stroke="#555" stroke-width="1.2"/>
<text x="490" y="872.8" text-anchor="end" font-size="16" textLength="16.4" lengthAdjust="spacingAndGlyphs">15</text>
<line x1="492.2" y1="833.2" x2="496" y2="833.2" stroke="#555" stroke-width="1.2"/>
<text x="490" y="839" text-anchor="end" font-size="16">20</text>
<line x1="492.2" y1="800" x2="496" y2="800" stroke="#555" stroke-width="1.2"/>
<text x="490" y="805.8" text-anchor="end" font-size="16">25</text>
<line x1="492.2" y1="766.4" x2="496" y2="766.4" stroke="#555" stroke-width="1.2"/>
<text x="490" y="772.2" text-anchor="end" font-size="16">30</text>
<line x1="511.5" y1="785.4" x2="545" y2="785.4" stroke="#555" stroke-width="1.5"/>
<path d="M519.8 775.1L519.8 782.3M517.25 776.15L522.35 781.25M516.2 778.7L523.4 778.7M517.25 781.25L522.35 776.15" stroke="#222" stroke-width="0.85" fill="none"/>
<path d="M528 775.1L528 782.3M525.45 776.15L530.55 781.25M524.4 778.7L531.6 778.7M525.45 781.25L530.55 776.15" stroke="#222" stroke-width="0.85" fill="none"/>
<path d="M536.3 775.1L536.3 782.3M533.75 776.15L538.85 781.25M532.7 778.7L539.9 778.7M533.75 781.25L538.85 776.15" stroke="#222" stroke-width="0.85" fill="none"/>
<line x1="511.5" y1="794.8" x2="577.5" y2="794.8" stroke="#555" stroke-width="1.5"/>
<path d="M557.8 785.3L557.8 792.5M555.25 786.35L560.35 791.45M554.2 788.9L561.4 788.9M555.25 791.45L560.35 786.35" stroke="#222" stroke-width="0.85" fill="none"/>
<line x1="515" y1="861.2" x2="515" y2="907" stroke="#555" stroke-width="1.1"/>
<rect x="502.3" y="874.9" width="26" height="16.6" fill="#f3f8fd" stroke="#5a5a5a" stroke-width="1.1"/>
<line x1="502.3" y1="882.7" x2="528.3" y2="882.7" stroke="#4a4a4a" stroke-width="1.2"/>
<ellipse cx="515" cy="861.2" rx="2.3" ry="1.9" fill="#000"/>
<ellipse cx="515" cy="871.8" rx="2.3" ry="1.9" fill="#000"/>
<ellipse cx="515" cy="873.8" rx="2.3" ry="1.9" fill="#000"/>
<ellipse cx="515" cy="875.8" rx="2.3" ry="1.9" fill="#000"/>
<ellipse cx="515" cy="878.5" rx="2.3" ry="1.9" fill="#000"/>
<ellipse cx="515" cy="882.7" rx="2.3" ry="1.9" fill="#000"/>
<ellipse cx="515" cy="888.8" rx="2.3" ry="1.9" fill="#000"/>
<ellipse cx="515" cy="890.4" rx="2.3" ry="1.9" fill="#000"/>
<ellipse cx="515" cy="891.8" rx="2.3" ry="1.9" fill="#000"/>
<ellipse cx="515" cy="905.1" rx="2.3" ry="1.9" fill="#000"/>
<ellipse cx="515" cy="907" rx="2.3" ry="1.9" fill="#000"/>
<line x1="547.2" y1="811.3" x2="547.2" y2="891.8" stroke="#555" stroke-width="1.1"/>
<rect x="534.3" y="842.8" width="26.2" height="27.7" fill="#c6dcf0" stroke="#5a5a5a" stroke-width="1.1"/>
<line x1="534.3" y1="851.6" x2="560.5" y2="851.6" stroke="#4a4a4a" stroke-width="1.2"/>
<ellipse cx="547.2" cy="811.3" rx="2.3" ry="1.9" fill="#000"/>
<ellipse cx="547.2" cy="819.9" rx="2.3" ry="1.9" fill="#000"/>
<ellipse cx="547.2" cy="837.2" rx="2.3" ry="1.9" fill="#000"/>
<ellipse cx="547.2" cy="838.6" rx="2.3" ry="1.9" fill="#000"/>
<ellipse cx="547.2" cy="839.9" rx="2.3" ry="1.9" fill="#000"/>
<ellipse cx="547.2" cy="843.9" rx="2.3" ry="1.9" fill="#000"/>
<ellipse cx="547.2" cy="845.9" rx="2.3" ry="1.9" fill="#000"/>
<ellipse cx="547.2" cy="847.9" rx="2.3" ry="1.9" fill="#000"/>
<ellipse cx="547.2" cy="849.9" rx="2.3" ry="1.9" fill="#000"/>
<ellipse cx="547.2" cy="854.5" rx="2.3" ry="1.9" fill="#000"/>
<ellipse cx="547.2" cy="860.5" rx="2.3" ry="1.9" fill="#000"/>
<ellipse cx="547.2" cy="870.5" rx="2.3" ry="1.9" fill="#000"/>
<ellipse cx="547.2" cy="872.5" rx="2.3" ry="1.9" fill="#000"/>
<ellipse cx="547.2" cy="874.5" rx="2.3" ry="1.9" fill="#000"/>
<ellipse cx="547.2" cy="891.8" rx="2.3" ry="1.9" fill="#000"/>
<line x1="579.8" y1="833.9" x2="579.8" y2="891.8" stroke="#555" stroke-width="1.1"/>
<rect x="566.9" y="849.5" width="25.8" height="27.6" fill="#4f97d6" stroke="#5a5a5a" stroke-width="1.1"/>
<line x1="566.9" y1="872.9" x2="592.7" y2="872.9" stroke="#4a4a4a" stroke-width="1.2"/>
<ellipse cx="579.8" cy="833.9" rx="2.3" ry="1.9" fill="#000"/>
<ellipse cx="579.8" cy="838.6" rx="2.3" ry="1.9" fill="#000"/>
<ellipse cx="579.8" cy="839.9" rx="2.3" ry="1.9" fill="#000"/>
<ellipse cx="579.8" cy="845.9" rx="2.3" ry="1.9" fill="#000"/>
<ellipse cx="579.8" cy="852.5" rx="2.3" ry="1.9" fill="#000"/>
<ellipse cx="579.8" cy="853.2" rx="2.3" ry="1.9" fill="#000"/>
<ellipse cx="579.8" cy="867.8" rx="2.3" ry="1.9" fill="#000"/>
<ellipse cx="579.8" cy="873.1" rx="2.3" ry="1.9" fill="#000"/>
<ellipse cx="579.8" cy="874.5" rx="2.3" ry="1.9" fill="#000"/>
<ellipse cx="579.8" cy="875.8" rx="2.3" ry="1.9" fill="#000"/>
<ellipse cx="579.8" cy="877.8" rx="2.3" ry="1.9" fill="#000"/>
<ellipse cx="579.8" cy="879.8" rx="2.3" ry="1.9" fill="#000"/>
<ellipse cx="579.8" cy="886.4" rx="2.3" ry="1.9" fill="#000"/>
<ellipse cx="579.8" cy="891.8" rx="2.3" ry="1.9" fill="#000"/>
<text x="595.2" y="964" text-anchor="end" font-size="16" textLength="48.7" lengthAdjust="spacingAndGlyphs">F = 9.6</text>
<text x="595.2" y="984.7" text-anchor="end" font-size="16" textLength="76.8" lengthAdjust="spacingAndGlyphs">P = 0.0004</text>
<text x="634.7" y="749.1" font-size="19" textLength="69.7" lengthAdjust="spacingAndGlyphs">Total PC</text>
<rect x="634.6" y="756.7" width="103.1" height="231.7" fill="#fff" stroke="#555" stroke-width="1.5"/>
<line x1="630.8" y1="967.7" x2="634.6" y2="967.7" stroke="#555" stroke-width="1.2"/>
<text x="626.9" y="973.5" text-anchor="end" font-size="16">0</text>
<line x1="630.8" y1="909.8" x2="634.6" y2="909.8" stroke="#555" stroke-width="1.2"/>
<text x="628.4" y="915.6" text-anchor="end" font-size="16" textLength="16.4" lengthAdjust="spacingAndGlyphs">10</text>
<line x1="630.8" y1="852.4" x2="634.6" y2="852.4" stroke="#555" stroke-width="1.2"/>
<text x="628.4" y="858.2" text-anchor="end" font-size="16">20</text>
<line x1="630.8" y1="795.1" x2="634.6" y2="795.1" stroke="#555" stroke-width="1.2"/>
<text x="628.4" y="800.9" text-anchor="end" font-size="16">30</text>
<line x1="652.4" y1="777.9" x2="685.9" y2="777.9" stroke="#555" stroke-width="1.5"/>
<path d="M661.1 767L661.1 774.2M658.55 768.05L663.65 773.15M657.5 770.6L664.7 770.6M658.55 773.15L663.65 768.05" stroke="#222" stroke-width="0.85" fill="none"/>
<path d="M669.1 767L669.1 774.2M666.55 768.05L671.65 773.15M665.5 770.6L672.7 770.6M666.55 773.15L671.65 768.05" stroke="#222" stroke-width="0.85" fill="none"/>
<path d="M677 767L677 774.2M674.45 768.05L679.55 773.15M673.4 770.6L680.6 770.6M674.45 773.15L679.55 768.05" stroke="#222" stroke-width="0.85" fill="none"/>
<line x1="653.6" y1="814.8" x2="653.6" y2="858.7" stroke="#555" stroke-width="1.1"/>
<rect x="640.4" y="820.6" width="26.5" height="35.9" fill="#f3f8fd" stroke="#5a5a5a" stroke-width="1.1"/>
<line x1="640.4" y1="839.4" x2="666.9" y2="839.4" stroke="#4a4a4a" stroke-width="1.2"/>
<ellipse cx="653.6" cy="814.8" rx="2.3" ry="1.9" fill="#000"/>
<ellipse cx="653.6" cy="819.6" rx="2.3" ry="1.9" fill="#000"/>
<ellipse cx="653.6" cy="820.6" rx="2.3" ry="1.9" fill="#000"/>
<ellipse cx="653.6" cy="831.5" rx="2.3" ry="1.9" fill="#000"/>
<ellipse cx="653.6" cy="839.2" rx="2.3" ry="1.9" fill="#000"/>
<ellipse cx="653.6" cy="841.2" rx="2.3" ry="1.9" fill="#000"/>
<ellipse cx="653.6" cy="842.5" rx="2.3" ry="1.9" fill="#000"/>
<ellipse cx="653.6" cy="856.5" rx="2.3" ry="1.9" fill="#000"/>
<ellipse cx="653.6" cy="857.8" rx="2.3" ry="1.9" fill="#000"/>
<ellipse cx="653.6" cy="858.7" rx="2.3" ry="1.9" fill="#000"/>
<line x1="685.6" y1="789.6" x2="685.6" y2="849.1" stroke="#555" stroke-width="1.1"/>
<rect x="672.8" y="810.2" width="26" height="17.9" fill="#c6dcf0" stroke="#5a5a5a" stroke-width="1.1"/>
<line x1="672.8" y1="818.6" x2="698.8" y2="818.6" stroke="#4a4a4a" stroke-width="1.2"/>
<ellipse cx="685.6" cy="789.6" rx="2.3" ry="1.9" fill="#000"/>
<ellipse cx="685.6" cy="804.2" rx="2.3" ry="1.9" fill="#000"/>
<ellipse cx="685.6" cy="808.2" rx="2.3" ry="1.9" fill="#000"/>
<ellipse cx="685.6" cy="809.9" rx="2.3" ry="1.9" fill="#000"/>
<ellipse cx="685.6" cy="811.9" rx="2.3" ry="1.9" fill="#000"/>
<ellipse cx="685.6" cy="815.9" rx="2.3" ry="1.9" fill="#000"/>
<ellipse cx="685.6" cy="817.9" rx="2.3" ry="1.9" fill="#000"/>
<ellipse cx="685.6" cy="819.9" rx="2.3" ry="1.9" fill="#000"/>
<ellipse cx="685.6" cy="821.9" rx="2.3" ry="1.9" fill="#000"/>
<ellipse cx="685.6" cy="823.9" rx="2.3" ry="1.9" fill="#000"/>
<ellipse cx="685.6" cy="840.5" rx="2.3" ry="1.9" fill="#000"/>
<ellipse cx="685.6" cy="842.5" rx="2.3" ry="1.9" fill="#000"/>
<ellipse cx="685.6" cy="844.5" rx="2.3" ry="1.9" fill="#000"/>
<ellipse cx="685.6" cy="849.1" rx="2.3" ry="1.9" fill="#000"/>
<line x1="718" y1="801.3" x2="718" y2="851.5" stroke="#555" stroke-width="1.1"/>
<rect x="705.4" y="825.5" width="25.4" height="19.3" fill="#4f97d6" stroke="#5a5a5a" stroke-width="1.1"/>
<line x1="705.4" y1="833.5" x2="730.8" y2="833.5" stroke="#4a4a4a" stroke-width="1.2"/>
<ellipse cx="718" cy="801.3" rx="2.3" ry="1.9" fill="#000"/>
<ellipse cx="718" cy="811.6" rx="2.3" ry="1.9" fill="#000"/>
<ellipse cx="718" cy="816.2" rx="2.3" ry="1.9" fill="#000"/>
<ellipse cx="718" cy="823.6" rx="2.3" ry="1.9" fill="#000"/>
<ellipse cx="718" cy="825.9" rx="2.3" ry="1.9" fill="#000"/>
<ellipse cx="718" cy="832.5" rx="2.3" ry="1.9" fill="#000"/>
<ellipse cx="718" cy="833.2" rx="2.3" ry="1.9" fill="#000"/>
<ellipse cx="718" cy="838.2" rx="2.3" ry="1.9" fill="#000"/>
<ellipse cx="718" cy="841.8" rx="2.3" ry="1.9" fill="#000"/>
<ellipse cx="718" cy="843.8" rx="2.3" ry="1.9" fill="#000"/>
<ellipse cx="718" cy="845.4" rx="2.3" ry="1.9" fill="#000"/>
<ellipse cx="718" cy="851.5" rx="2.3" ry="1.9" fill="#000"/>
<text x="733.1" y="964" text-anchor="end" font-size="16" textLength="47.6" lengthAdjust="spacingAndGlyphs">F = 6.2</text>
<text x="733.1" y="984.7" text-anchor="end" font-size="16" textLength="75.7" lengthAdjust="spacingAndGlyphs">P = 0.0005</text>
<text x="332.3" y="1021.6" font-size="14.6" textLength="142" lengthAdjust="spacingAndGlyphs">rs1990622 Genotype</text>
<rect x="332.9" y="1034.2" width="11.6" height="11.0" fill="#f3f8fd" stroke="#333" stroke-width="1.3"/>
<text x="346.2" y="1045.1" font-size="14.6" textLength="26.6" lengthAdjust="spacingAndGlyphs">G/G</text>
<rect x="384.2" y="1034.2" width="11.6" height="11.0" fill="#c6dcf0" stroke="#333" stroke-width="1.3"/>
<text x="397.9" y="1045.1" font-size="14.6" textLength="25.6" lengthAdjust="spacingAndGlyphs">A/G</text>
<rect x="435.6" y="1034.2" width="11.6" height="11.0" fill="#4f97d6" stroke="#333" stroke-width="1.3"/>
<text x="448.4" y="1045.1" font-size="14.6" textLength="25.9" lengthAdjust="spacingAndGlyphs">A/A</text>
</g>
</svg>
</body></html>
